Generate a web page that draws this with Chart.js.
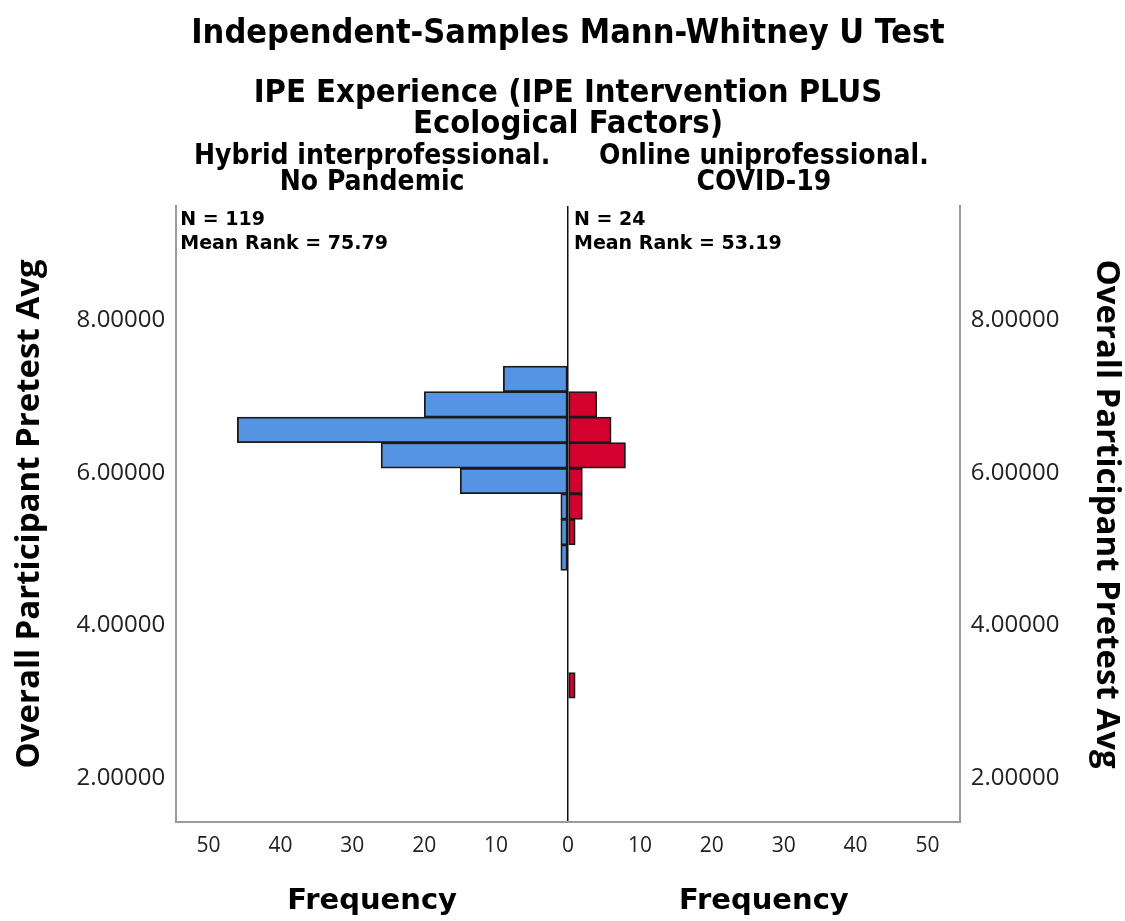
<!DOCTYPE html>
<html><head><meta charset="utf-8">
<script src="https://cdn.jsdelivr.net/npm/chart.js@4.4.1/dist/chart.umd.min.js"></script>
<style>html,body{margin:0;padding:0;background:#fff}#wrap{width:1125px;height:921px;position:relative}</style>
</head><body><div id="wrap"><canvas id="c"></canvas></div>
<script>
// ---- data ----
const binCenters = [3.2125, 3.5475, 3.8825, 4.2175, 4.5525, 4.8875, 5.2225, 5.5575, 5.8925, 6.2275, 6.5625, 6.8975, 7.2325];
const hybridCounts = [0, 0, 0, 0, 0, 1, 1, 1, 15, 26, 46, 20, 9];
const onlineCounts = [1, 0, 0, 0, 0, 0, 1, 2, 2, 8, 6, 4, 0];
const groupLabels = [['Hybrid interprofessional.', 'No Pandemic'], ['Online uniprofessional.', 'COVID-19']];
const groupStats = [['N = 119', 'Mean Rank = 75.79'], ['N = 24', 'Mean Rank = 53.19']];
const yTicks = [2, 4, 6, 8];
const xTicks = [-50, -40, -30, -20, -10, 0, 10, 20, 30, 40, 50];
const freqLabels = ['Frequency', 'Frequency'];

const COND = '"DejaVu Sans Condensed", "DejaVu Sans", sans-serif';
const DEJA = '"DejaVu Sans", sans-serif';
const OPEN = '"Open Sans", "DejaVu Sans", sans-serif';

const statsPlugin = {
  id: 'stats',
  afterDatasetsDraw(chart) {
    const { ctx, chartArea, scales } = chart;
    ctx.save();
    ctx.font = 'bold 19px ' + DEJA;
    ctx.fillStyle = '#000';
    ctx.textBaseline = 'middle';
    const x0 = [chartArea.left + 4, scales.x.getPixelForValue(0) + 6];
    groupStats.forEach((lines, i) => lines.forEach((t, j) => ctx.fillText(t, x0[i], chartArea.top + 14 + j * 24)));
    ctx.restore();
  }
};

const barStyle = { borderColor: '#1a1a1a', borderWidth: 1.8, grouped: false, categoryPercentage: 1, barPercentage: 1, borderSkipped: false, xAxisID: 'x', yAxisID: 'y' };

function toPoints(counts, sign) {
  return binCenters.map((c, i) => ({ y: c, x: sign * counts[i] })).filter((d, i) => counts[i] !== 0);
}

const yCommon = {
  type: 'linear', min: 1.42, max: 9.5, offset: false,
  afterBuildTicks: s => { s.ticks = yTicks.map(v => ({ value: v })); },
  ticks: { callback: v => Number(v).toFixed(5), color: '#222', font: { family: OPEN, size: 24 }, padding: 11 },
  grid: { display: false, drawTicks: false, offset: false },
  border: { display: true, color: '#9a9a9a', width: 2 },
  title: { display: true, text: 'Overall Participant Pretest Avg', color: '#000', font: { family: OPEN, size: 33, weight: 'bold' }, padding: { top: 0, bottom: 16 } }
};

new Chart(document.getElementById('c'), {
  type: 'bar',
  data: {
    datasets: [
      Object.assign({ label: groupLabels[0].join(' '), backgroundColor: '#5494e3', data: toPoints(hybridCounts, -1) }, barStyle),
      Object.assign({ label: groupLabels[1].join(' '), backgroundColor: '#d4002e', data: toPoints(onlineCounts, 1) }, barStyle)
    ]
  },
  options: {
    indexAxis: 'y',
    responsive: true,
    maintainAspectRatio: false,
    animation: false,
    layout: { padding: { left: 10, right: -1, top: 6, bottom: -13 } },
    plugins: {
      legend: { display: false },
      tooltip: { enabled: false },
      title: { display: true, text: 'Independent-Samples Mann-Whitney U Test', color: '#000',
        font: { family: COND, size: 34, weight: 'bold' }, padding: { top: 8, bottom: 23 } },
      subtitle: { display: true, text: ['IPE Experience (IPE Intervention PLUS', 'Ecological Factors)'], color: '#000',
        font: { family: COND, size: 32.5, weight: 'bold', lineHeight: 0.95 }, padding: { top: 0, bottom: -6 } }
    },
    scales: {
      x: {
        type: 'linear', position: 'bottom', min: -54.5, max: 54.5,
        afterBuildTicks: s => { s.ticks = xTicks.map(v => ({ value: v })); },
        ticks: { callback: v => String(Math.abs(v)), color: '#222', font: { family: OPEN, size: 21 }, padding: 11, maxRotation: 0 },
        grid: { drawTicks: false, color: c => (c.tick && c.tick.value === 0) ? '#111' : 'rgba(0,0,0,0)', lineWidth: 1.5 },
        border: { display: true, color: '#9a9a9a', width: 2 }
      },
      x2: {
        type: 'category', position: 'bottom', labels: freqLabels, offset: true,
        grid: { display: false, drawTicks: false }, border: { display: false },
        ticks: { color: '#000', font: { family: DEJA, size: 29, weight: 'bold' }, padding: 15, maxRotation: 0, autoSkip: false }
      },
      xtop: {
        type: 'category', position: 'top', labels: groupLabels, offset: true,
        grid: { display: false, drawTicks: false }, border: { display: false },
        ticks: { color: '#000', font: { family: COND, size: 28, weight: 'bold', lineHeight: 0.9 }, padding: 11, maxRotation: 0, autoSkip: false }
      },
      y: Object.assign({ position: 'left' }, yCommon),
      y2: Object.assign({ position: 'right' }, yCommon)
    }
  },
  plugins: [statsPlugin]
});
</script></body></html>
